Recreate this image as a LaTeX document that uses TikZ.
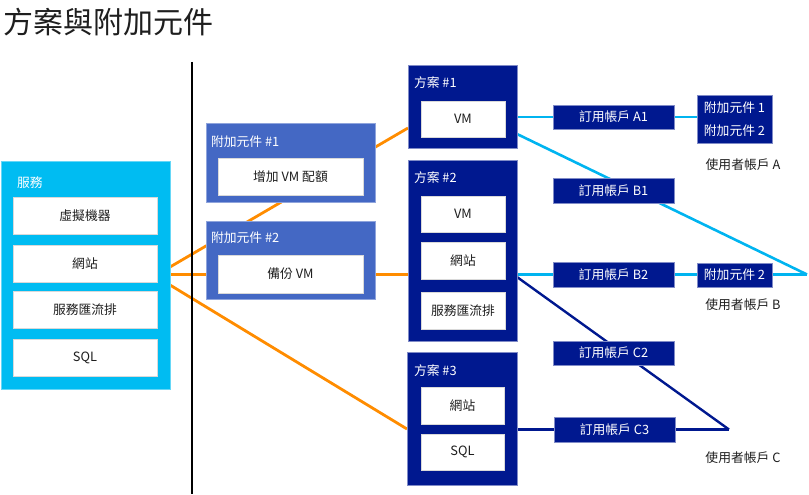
\documentclass[tikz,border=0pt]{standalone}
\usepackage{fontspec}
\setmainfont{Noto Sans CJK TC}
\usetikzlibrary{backgrounds,calc}
\definecolor{svccyan}{RGB}{0,188,242}
\definecolor{addblue}{RGB}{68,104,196}
\definecolor{plannavy}{RGB}{0,24,143}
\definecolor{lineorange}{RGB}{255,140,0}
\definecolor{linecyan}{RGB}{0,180,240}
\definecolor{txtdark}{RGB}{30,30,30}
\begin{document}
\begin{tikzpicture}[x=1pt,y=-1pt,
  every node/.style={inner sep=0pt, outer sep=0pt},
  boxfont/.style={font=\fontsize{12.8}{15}\selectfont},
  svcbox/.style={fill=svccyan, draw=svccyan!60!white, line width=0.5pt},
  addbox/.style={fill=addblue, draw=addblue!60!white, line width=0.5pt},
  planbox/.style={fill=plannavy, draw=plannavy!50!white, line width=0.5pt},
  whitebox/.style={fill=white, draw=black!15, line width=0.4pt, boxfont, text=txtdark},
  subbox/.style={fill=plannavy, draw=plannavy!50!white, line width=0.5pt, boxfont, text=white},
  hdr/.style={anchor=west, boxfont, text=white},
  userlbl/.style={boxfont, text=txtdark},
  orangeline/.style={draw=lineorange, line width=2.8pt},
  cyanline/.style={draw=linecyan, line width=2.6pt},
  navyline/.style={draw=plannavy, line width=2.4pt}
]
\useasboundingbox (0,0) rectangle (809,495);

% title
\node[anchor=west, font=\fontsize{30}{34}\selectfont, text=txtdark] (title) at (4,22.5) {方案與附加元件};

% vertical separator
\coordinate (sepTop) at (192,62);
\coordinate (sepBot) at (192,494);
\draw[line width=2.8pt, black] (sepTop) -- (sepBot);

% services
\node[svcbox, minimum width=169pt, minimum height=228pt] (svc) at (85.5,275) {};
\node[hdr] (svclbl) at (17,183) {服務};
\node[whitebox, minimum width=144pt, minimum height=37pt] (s1) at (85,215.5) {虛擬機器};
\node[whitebox, minimum width=144pt, minimum height=37pt] (s2) at (85,263.5) {網站};
\node[whitebox, minimum width=144pt, minimum height=37pt] (s3) at (85,310) {服務匯流排};
\node[whitebox, minimum width=144pt, minimum height=37pt] (s4) at (85,357.5) {SQL};

% add-ons
\node[addbox, minimum width=169pt, minimum height=79pt] (add1) at (290.5,162.5) {};
\node[hdr] (add1lbl) at (211,141.5) {附加元件 \#1};
\node[whitebox, minimum width=145pt, minimum height=37pt] (add1in) at (290.5,176.5) {增加 VM 配額};
\node[addbox, minimum width=169pt, minimum height=78pt] (add2) at (290.5,260) {};
\node[hdr] (add2lbl) at (211,238) {附加元件 \#2};
\node[whitebox, minimum width=145pt, minimum height=38pt] (add2in) at (290.5,274) {備份 VM};

% plans
\node[planbox, minimum width=109pt, minimum height=83pt] (plan1) at (462.5,106.5) {};
\node[hdr] (p1lbl) at (414,83) {方案 \#1};
\node[whitebox, minimum width=84pt, minimum height=36pt] (p1vm) at (463,119) {VM};

\node[planbox, minimum width=109pt, minimum height=181pt] (plan2) at (462.5,250.5) {};
\node[hdr] (p2lbl) at (414,178) {方案 \#2};
\node[whitebox, minimum width=84pt, minimum height=36pt] (p2vm) at (463,214) {VM};
\node[whitebox, minimum width=84pt, minimum height=37pt] (p2web) at (463,260.5) {網站};
\node[whitebox, minimum width=84pt, minimum height=37pt] (p2bus) at (463,310.5) {服務匯流排};

\node[planbox, minimum width=110pt, minimum height=133pt] (plan3) at (462,418.5) {};
\node[hdr] (p3lbl) at (414,371) {方案 \#3};
\node[whitebox, minimum width=83pt, minimum height=37pt] (p3web) at (462.5,405.5) {網站};
\node[whitebox, minimum width=83pt, minimum height=36pt] (p3sql) at (462.5,452) {SQL};

% subscriptions
\node[subbox, minimum width=121pt, minimum height=24.5pt] (a1) at (613.5,117) {訂用帳戶 A1};
\node[subbox, minimum width=121pt, minimum height=24.5pt] (b1) at (613.5,190.5) {訂用帳戶 B1};
\node[subbox, minimum width=121pt, minimum height=24.5pt] (b2) at (613.5,274.5) {訂用帳戶 B2};
\node[subbox, minimum width=121pt, minimum height=24.5pt] (c2) at (613.5,353) {訂用帳戶 C2};
\node[subbox, minimum width=121pt, minimum height=24.5pt] (c3) at (614.5,429.5) {訂用帳戶 C3};

% user add-ons
\node[subbox, minimum width=75pt, minimum height=48pt, align=center, font=\fontsize{12.8}{23.3}\selectfont] (addA) at (734.5,119) {附加元件 1\\附加元件 2};
\node[subbox, minimum width=75pt, minimum height=24.5pt] (addB) at (734.5,275) {附加元件 2};

% user account labels
\node[userlbl] (userA) at (743,165) {使用者帳戶 A};
\node[userlbl] (userB) at (743,305) {使用者帳戶 B};
\node[userlbl] (userC) at (743,458) {使用者帳戶 C};

\coordinate (vB) at (807,274.5);
\coordinate (vC) at (729,429.5);

% connectors behind boxes
\begin{scope}[on background layer]
  \draw[orangeline] ([yshift=8pt]svc.east) -- ([yshift=-21.5pt]plan1.west);
  \draw[orangeline] ([yshift=0.5pt]svc.east) -- ([yshift=0.5pt]svc.east -| plan2.west);
  \draw[orangeline] ([yshift=-10pt]svc.east) -- ([yshift=-10.5pt]plan3.west);
  \draw[cyanline] (a1.west -| plan1.east) -- (addA.west |- a1.west);
  \draw[cyanline] ([yshift=-27.5pt]plan1.east) -- (vB);
  \draw[cyanline] (b2.west -| plan2.east) -- (vB);
  \draw[navyline] ([yshift=-26.5pt]plan2.east) -- (vC);
  \draw[navyline] (c3.west -| plan3.east) -- (vC);
\end{scope}
\end{tikzpicture}
\end{document}
